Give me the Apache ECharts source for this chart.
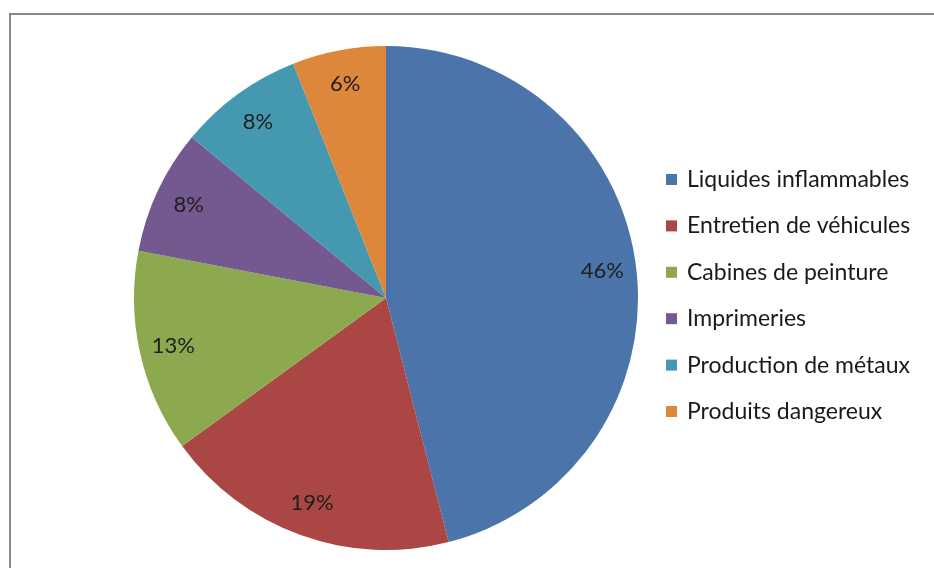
<!DOCTYPE html>
<html><head><meta charset="utf-8">
<script src="https://cdn.jsdelivr.net/npm/echarts@6/dist/echarts.min.js"></script>
<style>html,body{margin:0;padding:0;background:#fff;}#c{width:934px;height:568px;}
#frame{position:absolute;left:9px;top:13px;width:940px;height:600px;border:2px solid #878787;box-sizing:border-box;pointer-events:none;}</style>
</head><body>
<div id="c"></div><div id="frame"></div>
<script>
const categories = ["Liquides inflammables","Entretien de véhicules","Cabines de peinture","Imprimeries","Production de métaux","Produits dangereux"];
const values = [46, 19, 13, 8, 8, 6];
const colors = ["#4A74AA","#AA4744","#8CA94F","#73598F","#4499B1","#DD873B"];

const data = categories.map((n,i)=>({name:n,value:values[i],itemStyle:{color:colors[i]}}));
const chart = echarts.init(document.getElementById('c'));
chart.setOption({
  animation:false,
  legend:{
    orient:'vertical', left:666, top:168, padding:0, itemWidth:11, itemHeight:11, itemGap:23.4,
    icon:'rect', data:categories,
    textStyle:{fontFamily:'Lato',fontSize:23,lineHeight:23,color:'#1a1a1a',padding:[0,0,0,5]}
  },
  series:[
    {type:'pie', center:[386,298], radius:[0,252], startAngle:90, clockwise:true,
     data:data, label:{show:false}, labelLine:{show:false}, silent:true,
     itemStyle:{borderWidth:0}},
    {type:'pie', center:[386,298], radius:[0,430], startAngle:90, clockwise:true,
     data:categories.map((n,i)=>({name:n,value:values[i],itemStyle:{color:'rgba(0,0,0,0)'}})),
     silent:true, legendHoverLink:false,
     label:{show:true, position:'inside', formatter:p=>p.value+'%', fontFamily:'Lato', fontSize:22, color:'#1e1e1e'},
     labelLine:{show:false}}
  ]
});
</script>
</body></html>
